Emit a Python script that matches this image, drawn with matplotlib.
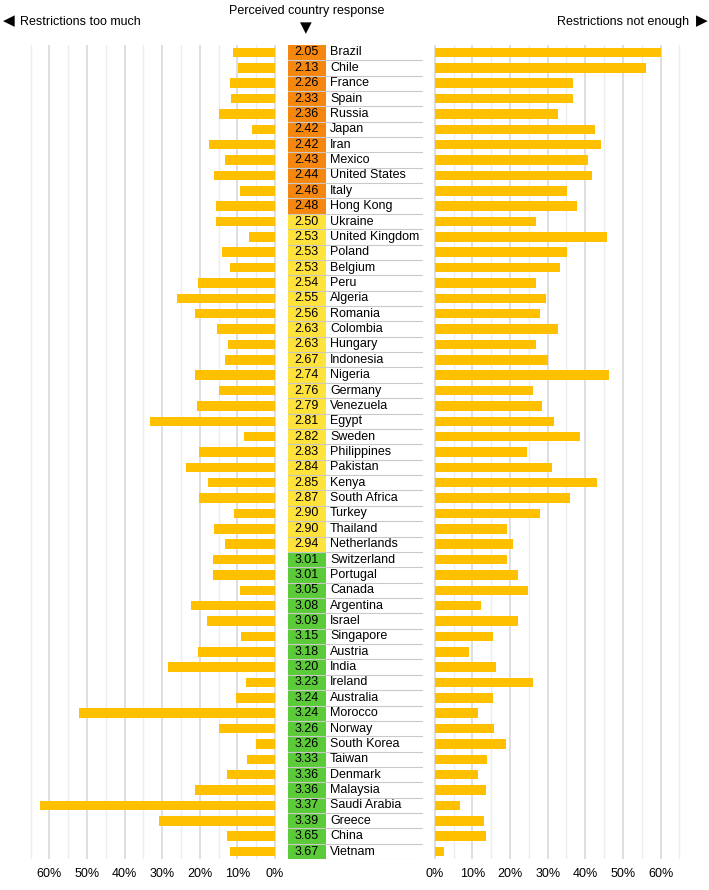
import numpy as np
import matplotlib
matplotlib.use("Agg")
import matplotlib.pyplot as plt

plt.rcParams['font.family'] = ['Liberation Sans', 'DejaVu Sans']

countries = ["Brazil", "Chile", "France", "Spain", "Russia", "Japan", "Iran", "Mexico",
             "United States", "Italy", "Hong Kong", "Ukraine", "United Kingdom", "Poland",
             "Belgium", "Peru", "Algeria", "Romania", "Colombia", "Hungary", "Indonesia",
             "Nigeria", "Germany", "Venezuela", "Egypt", "Sweden", "Philippines", "Pakistan",
             "Kenya", "South Africa", "Turkey", "Thailand", "Netherlands", "Switzerland",
             "Portugal", "Canada", "Argentina", "Israel", "Singapore", "Austria", "India",
             "Ireland", "Australia", "Morocco", "Norway", "South Korea", "Taiwan", "Denmark",
             "Malaysia", "Saudi Arabia", "Greece", "China", "Vietnam"]

scores = [2.05, 2.13, 2.26, 2.33, 2.36, 2.42, 2.42, 2.43, 2.44, 2.46, 2.48, 2.50, 2.53,
          2.53, 2.53, 2.54, 2.55, 2.56, 2.63, 2.63, 2.67, 2.74, 2.76, 2.79, 2.81, 2.82,
          2.83, 2.84, 2.85, 2.87, 2.90, 2.90, 2.94, 3.01, 3.01, 3.05, 3.08, 3.09, 3.15,
          3.18, 3.20, 3.23, 3.24, 3.24, 3.26, 3.26, 3.33, 3.36, 3.36, 3.37, 3.39, 3.65, 3.67]

# % saying restrictions go too far
too_much = [11.3, 9.8, 12.1, 11.7, 14.9, 6.2, 17.6, 13.3, 16.1, 9.3, 15.7, 15.7, 7.0,
            14.1, 12.1, 20.4, 26.0, 21.2, 15.3, 12.5, 13.3, 21.2, 14.9, 20.8, 33.2, 8.2,
            20.1, 23.7, 17.7, 20.1, 10.9, 16.1, 13.3, 16.5, 16.5, 9.3, 22.4, 18.1, 9.0,
            20.5, 28.4, 7.8, 10.5, 52.1, 14.9, 5.1, 7.4, 12.9, 21.2, 62.4, 30.8, 12.9, 12.1]

# % saying restrictions not enough
not_enough = [60.0, 56.1, 36.6, 36.6, 32.7, 42.7, 44.2, 40.6, 41.8, 35.1, 37.9, 26.8, 45.8,
              35.1, 33.2, 26.8, 29.6, 28.0, 32.7, 26.8, 30.0, 46.2, 26.0, 28.4, 31.6, 38.7,
              24.4, 31.2, 43.0, 35.9, 28.0, 19.3, 20.9, 19.3, 22.0, 24.9, 12.2, 22.0, 15.4,
              9.0, 16.2, 26.0, 15.4, 11.4, 15.8, 18.9, 13.8, 11.4, 13.5, 6.7, 13.0, 13.5, 2.4]

ticks = [0, 10, 20, 30, 40, 50, 60]
tick_labels = [str(t) + "%" for t in ticks]

bar_col = "#FFC000"

def cell_color(s):
    if s < 2.5:
        return "#F5870F"
    if s < 3.0:
        return "#FFE23B"
    return "#5BCB3A"

W, H = 709, 890
fig = plt.figure(figsize=(7.09, 8.90), dpi=100)

n = len(countries)
y = np.arange(n)
top, bot = 44.8, 859.2

def axpos(x0, x1):
    return [x0 / W, 1 - bot / H, (x1 - x0) / W, (bot - top) / H]

ax_l = fig.add_axes(axpos(22, 277))
ax_m = fig.add_axes(axpos(286, 424))
ax_r = fig.add_axes(axpos(432, 690))

for ax in (ax_l, ax_r):
    for t in range(5, 70, 10):
        ax.axvline(t, color="#ededed", lw=1, zorder=0)
    for t in ticks:
        ax.axvline(t, color="#d6d6d6", lw=1.1, zorder=0)
    ax.set_ylim(n - 0.5, -0.5)
    ax.set_xticks(ticks)
    ax.set_xticklabels(tick_labels, fontsize=9)
    ax.tick_params(axis="x", length=0, pad=6)
    ax.set_yticks([])
    for s in ax.spines.values():
        s.set_visible(False)

ax_l.barh(y, too_much, height=0.62, color=bar_col, zorder=2)
ax_l.set_xlim(67.3, -0.53)

ax_r.barh(y, not_enough, height=0.62, color=bar_col, zorder=2)
ax_r.set_xlim(-0.72, 67.8)

# middle table
ax_m.set_xlim(0, 138)
ax_m.set_ylim(n - 0.5, -0.5)
ax_m.axis("off")
for i in range(n):
    ax_m.add_patch(plt.Rectangle((2, i - 0.5), 37.5, 1.0, color=cell_color(scores[i]), lw=0))
    ax_m.plot([2, 136], [i + 0.5, i + 0.5], color="#c9c9c9", lw=0.8)
    ax_m.text(20.5, i, "%.2f" % scores[i], ha="center", va="center", fontsize=9)
    ax_m.text(44, i, countries[i], ha="left", va="center", fontsize=9)

fig.text(20 / W, 1 - 22 / H, "Restrictions too much", ha="left", va="center", fontsize=9)
fig.text(8.5 / W, 1 - 21 / H, "◀", ha="center", va="center", fontsize=11,
         family="DejaVu Sans")
fig.text(689 / W, 1 - 22 / H, "Restrictions not enough", ha="right", va="center", fontsize=9)
fig.text(701.5 / W, 1 - 21 / H, "▶", ha="center", va="center", fontsize=11,
         family="DejaVu Sans")
fig.text(307 / W, 1 - 11 / H, "Perceived country response", ha="center", va="center", fontsize=9)
fig.text(306 / W, 1 - 28 / H, "▼", ha="center", va="center", fontsize=11,
         family="DejaVu Sans")

fig.savefig("out.png", dpi=100)
